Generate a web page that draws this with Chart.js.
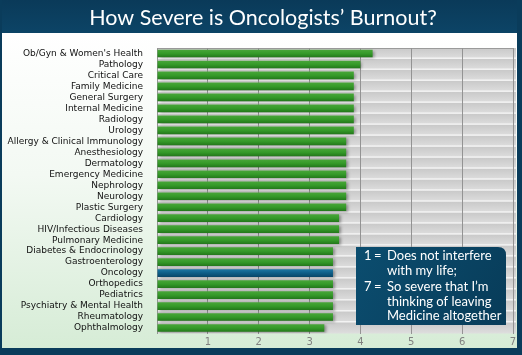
<!DOCTYPE html>
<html>
<head>
<meta charset="utf-8">
<script src="https://cdn.jsdelivr.net/npm/chart.js@4/dist/chart.umd.min.js"></script>
<style>
html,body{margin:0;padding:0;background:#fff;}
#wrap{width:522px;height:355px;position:relative;}
</style>
</head>
<body>
<div id="wrap"><canvas id="c" width="522" height="355"></canvas></div>
<script>
const titleText = "How Severe is Oncologists\u2019 Burnout?";
const categories = [
  "Ob/Gyn & Women's Health","Pathology","Critical Care","Family Medicine","General Surgery",
  "Internal Medicine","Radiology","Urology","Allergy & Clinical Immunology","Anesthesiology",
  "Dermatology","Emergency Medicine","Nephrology","Neurology","Plastic Surgery","Cardiology",
  "HIV/Infectious Diseases","Pulmonary Medicine","Diabetes & Endocrinology","Gastroenterology",
  "Oncology","Orthopedics","Pediatrics","Psychiatry & Mental Health","Rheumatology","Ophthalmology"
];
const burnoutScores = [
  4.24,4.0,3.87,3.87,3.87,
  3.87,3.87,3.87,3.72,3.72,
  3.72,3.72,3.72,3.72,3.72,3.58,
  3.58,3.58,3.46,3.46,
  3.46,3.46,3.46,3.46,3.46,3.29
];
const highlightCategory = "Oncology";
const xTickValues = [1,2,3,4,5,6,7];

const chromePlugin = {
  id: 'chrome',
  beforeDraw(chart) {
    const ctx = chart.ctx, W = chart.width, H = chart.height, a = chart.chartArea;
    ctx.save();
    let g = ctx.createLinearGradient(0, 33, 0, 348);
    g.addColorStop(0, '#ffffff');
    g.addColorStop(0.45, '#f3f9f3');
    g.addColorStop(1, '#d6ecd6');
    ctx.fillStyle = g; ctx.fillRect(0, 0, W, H);
    let tg = ctx.createLinearGradient(0, 0, 0, 33);
    tg.addColorStop(0, '#0a3a59'); tg.addColorStop(1, '#0c4466');
    ctx.fillStyle = tg; ctx.fillRect(0, 0, W, 33);
    ctx.fillStyle = '#0a3c5b';
    ctx.fillRect(0, 348, W, H - 348);
    ctx.fillRect(0, 0, 2, H);
    ctx.fillRect(517, 0, W - 517, H);
    ctx.fillStyle = '#ffffff';
    ctx.font = '21.5px Lato';
    ctx.textAlign = 'center'; ctx.textBaseline = 'middle';
    ctx.fillText(titleText, 263, 18);
    const n = categories.length, h = (a.bottom - a.top) / n;
    for (let i = 0; i < n; i++) {
      const y0 = a.top + i * h;
      const sg = ctx.createLinearGradient(0, y0, 0, y0 + h);
      sg.addColorStop(0, '#c9c9c9'); sg.addColorStop(1, '#dedede');
      ctx.fillStyle = sg; ctx.fillRect(a.left, y0, a.right - a.left + 3, h);
      if (i < n - 1) { ctx.fillStyle = '#f3f3f3'; ctx.fillRect(a.left, y0 + h - 1.5, a.right - a.left + 3, 2); }
    }
    ctx.strokeStyle = '#9a9a9a'; ctx.lineWidth = 1;
    ctx.beginPath(); ctx.moveTo(a.left, a.top + 0.5); ctx.lineTo(a.right, a.top + 0.5); ctx.stroke();
    ctx.restore();
  },
  beforeDatasetsDraw(chart) {
    const ctx = chart.ctx;
    ctx.save();
    ctx.shadowColor = 'rgba(0,0,0,0.35)';
    ctx.shadowBlur = 3; ctx.shadowOffsetX = 2; ctx.shadowOffsetY = 1;
  },
  afterDatasetsDraw(chart) {
    chart.ctx.restore();
  },
  afterDraw(chart) {
    const ctx = chart.ctx;
    const x = 356, y = 247, w = 150, hh = 78, r = 8;
    ctx.save();
    const bg = ctx.createLinearGradient(x, y, x + w, y + hh);
    bg.addColorStop(0, '#0b4d6f'); bg.addColorStop(1, '#083c59');
    ctx.fillStyle = bg;
    ctx.beginPath();
    ctx.moveTo(x, y); ctx.lineTo(x + w - r, y); ctx.quadraticCurveTo(x + w, y, x + w, y + r);
    ctx.lineTo(x + w, y + hh); ctx.lineTo(x, y + hh); ctx.closePath(); ctx.fill();
    ctx.fillStyle = '#ffffff';
    ctx.font = '13px Lato';
    ctx.textBaseline = 'middle'; ctx.textAlign = 'left';
    const ys = [256, 271, 286.5, 301.5, 316];
    ctx.fillText('1', 364, ys[0]); ctx.fillText('=', 374, ys[0]);
    ctx.fillText('Does not interfere', 387, ys[0]);
    ctx.fillText('with my life;', 387, ys[1]);
    ctx.fillText('7', 364, ys[2]); ctx.fillText('=', 374, ys[2]);
    ctx.fillText('So severe that I\u2019m', 387, ys[2]);
    ctx.fillText('thinking of leaving', 387, ys[3]);
    ctx.fillText('Medicine altogether', 387, ys[4]);
    ctx.restore();
  }
};

function barFill(context) {
  const chart = context.chart;
  const i = context.dataIndex;
  const ys = chart.scales.y;
  const isHi = categories[i] === highlightCategory;
  if (!ys || ys.top === undefined) return isHi ? '#0e5a82' : '#329326';
  const yc = ys.getPixelForValue(i);
  const g = chart.ctx.createLinearGradient(0, yc - 4, 0, yc + 4);
  if (isHi) {
    g.addColorStop(0, '#1c77a4'); g.addColorStop(0.5, '#0e5d86'); g.addColorStop(1, '#084466');
  } else {
    g.addColorStop(0, '#4aa63a'); g.addColorStop(0.5, '#359a29'); g.addColorStop(1, '#22761a');
  }
  return g;
}

new Chart(document.getElementById('c'), {
  type: 'bar',
  data: {
    labels: categories,
    datasets: [{
      data: burnoutScores,
      backgroundColor: barFill,
      borderWidth: 0,
      barPercentage: 0.7,
      categoryPercentage: 1.0
    }]
  },
  plugins: [chromePlugin],
  options: {
    indexAxis: 'y',
    responsive: false,
    animation: false,
    devicePixelRatio: 1,
    layout: { padding: { top: 48, right: 9, bottom: 0, left: 0 } },
    plugins: { legend: { display: false }, tooltip: { enabled: false }, title: { display: false } },
    scales: {
      y: {
        afterFit(s) { s.width = 157; },
        grid: { display: false },
        border: { display: false },
        ticks: { color: '#111', font: { family: 'DejaVu Sans', size: 9 }, padding: 6, autoSkip: false }
      },
      x: {
        min: 0, max: 7,
        afterFit(s) { s.height = 21.5; },
        afterBuildTicks(s) { s.ticks = [0].concat(xTickValues).map(v => ({ value: v })); },
        grid: { color: '#939393', drawTicks: false, lineWidth: 1 },
        border: { display: false },
        ticks: { color: '#808080', font: { family: 'DejaVu Sans', size: 10 }, padding: 3,
                 callback: (v) => v === 0 ? '' : String(v) }
      }
    }
  }
});
</script>
</body>
</html>
